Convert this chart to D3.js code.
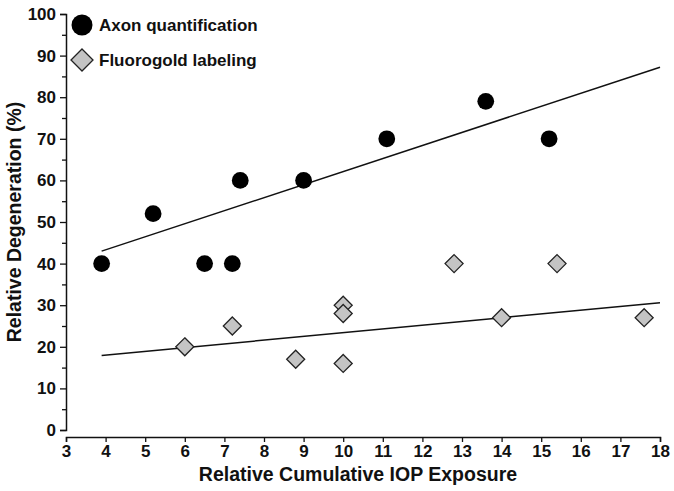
<!DOCTYPE html>
<html>
<head>
<meta charset="utf-8">
<script src="https://cdn.jsdelivr.net/npm/d3@7"></script>
<style>
  html, body { margin: 0; padding: 0; background: #fff; }
  svg { display: block; font-family: "Liberation Sans", Arial, Helvetica, sans-serif; }
</style>
</head>
<body>
<svg id="chart" width="674" height="491"></svg>
<script>
// ---- data ----
const axonX = [3.9, 5.2, 6.5, 7.2, 7.4, 9.0, 11.1, 13.6, 15.2];
const axonY = [40, 52, 40, 40, 60, 60, 70, 79, 70];
const fluoroX = [6.0, 7.2, 8.8, 10.0, 10.0, 10.0, 12.8, 14.0, 15.4, 17.6];
const fluoroY = [20, 25, 17, 30, 28, 16, 40, 27, 40, 27];
// regression line endpoints [x, y]
const axonFit = [[3.9, 43.0], [18, 87.2]];
const fluoroFit = [[3.9, 17.9], [18, 30.6]];
const xTicks = [3,4,5,6,7,8,9,10,11,12,13,14,15,16,17,18];
const yTicks = [0,10,20,30,40,50,60,70,80,90,100];
const yMinorTicks = [5,15,25,35,45,55,65,75,85,95];
const seriesNames = ["Axon quantification", "Fluorogold labeling"];
const xTitle = "Relative Cumulative IOP Exposure";
const yTitle = "Relative Degeneration (%)";

// ---- layout ----
const svg = d3.select("#chart");
const x = d3.scaleLinear().domain([3, 18]).range([66, 660]);
const y = d3.scaleLinear().domain([0, 100]).range([430, 14]);
const xAxisY = 437;
const yAxisX = 66;

// x axis
const gx = svg.append("g").attr("transform", `translate(0,${xAxisY})`)
  .call(d3.axisBottom(x).tickValues(xTicks).tickFormat(d3.format("d")).tickSizeOuter(0).tickSize(5).tickPadding(3));
gx.select(".domain").attr("stroke", "#111").attr("stroke-width", 1.5);
gx.selectAll(".tick line").attr("stroke", "#111").attr("stroke-width", 1.3);
gx.selectAll(".tick text").attr("font-size", 17).attr("font-weight", "bold").attr("fill", "#111")
  .attr("font-family", "Liberation Sans, Arial, sans-serif");

// y axis
const gy = svg.append("g").attr("transform", `translate(${yAxisX},0)`)
  .call(d3.axisLeft(y).tickValues(yTicks).tickFormat(d3.format("d")).tickSizeOuter(0).tickSize(6).tickPadding(4));
gy.select(".domain").attr("stroke", "#111").attr("stroke-width", 1.5);
gy.selectAll(".tick line").attr("stroke", "#111").attr("stroke-width", 1.3);
gy.selectAll(".tick text").attr("font-size", 17).attr("font-weight", "bold").attr("fill", "#111")
  .attr("font-family", "Liberation Sans, Arial, sans-serif");
const gyMinor = svg.append("g").attr("transform", `translate(${yAxisX},0)`)
  .call(d3.axisLeft(y).tickValues(yMinorTicks).tickFormat("").tickSizeOuter(0).tickSize(4));
gyMinor.select(".domain").remove();
gyMinor.selectAll(".tick line").attr("stroke", "#111").attr("stroke-width", 1.3);

// axis titles
svg.append("text")
  .attr("x", 358).attr("y", 481)
  .attr("text-anchor", "middle")
  .attr("font-size", 19.5).attr("font-weight", "bold").attr("fill", "#111")
  .text(xTitle);
svg.append("text")
  .attr("transform", `translate(21,222) rotate(-90)`)
  .attr("text-anchor", "middle")
  .attr("font-size", 19.5).attr("font-weight", "bold").attr("fill", "#111")
  .text(yTitle);

// regression lines
const line = d3.line().x(d => x(d[0])).y(d => y(d[1]));
svg.append("path").attr("d", line(axonFit)).attr("fill", "none").attr("stroke", "#111").attr("stroke-width", 1.5);
svg.append("path").attr("d", line(fluoroFit)).attr("fill", "none").attr("stroke", "#111").attr("stroke-width", 1.5);

// diamonds
const diamond = (cx, cy, r) => `M${cx},${cy - r}L${cx + r},${cy}L${cx},${cy + r}L${cx - r},${cy}Z`;
svg.append("g").selectAll("path")
  .data(fluoroX.map((v, i) => [v, fluoroY[i]]))
  .join("path")
  .attr("d", d => diamond(x(d[0]), y(d[1]), 9))
  .attr("fill", "#c4c4c4").attr("stroke", "#222").attr("stroke-width", 1.3);

// circles
svg.append("g").selectAll("circle")
  .data(axonX.map((v, i) => [v, axonY[i]]))
  .join("circle")
  .attr("cx", d => x(d[0])).attr("cy", d => y(d[1])).attr("r", 8.4)
  .attr("fill", "#000");

// legend
const lg = svg.append("g");
lg.append("circle").attr("cx", 82).attr("cy", 25).attr("r", 10.5).attr("fill", "#000");
lg.append("path").attr("d", diamond(82, 60, 11)).attr("fill", "#c4c4c4").attr("stroke", "#222").attr("stroke-width", 1.3);
lg.append("text").attr("x", 99).attr("y", 31).attr("font-size", 17).attr("font-weight", "bold").attr("fill", "#111").text(seriesNames[0]);
lg.append("text").attr("x", 99).attr("y", 66).attr("font-size", 17).attr("font-weight", "bold").attr("fill", "#111").text(seriesNames[1]);
</script>
</body>
</html>
